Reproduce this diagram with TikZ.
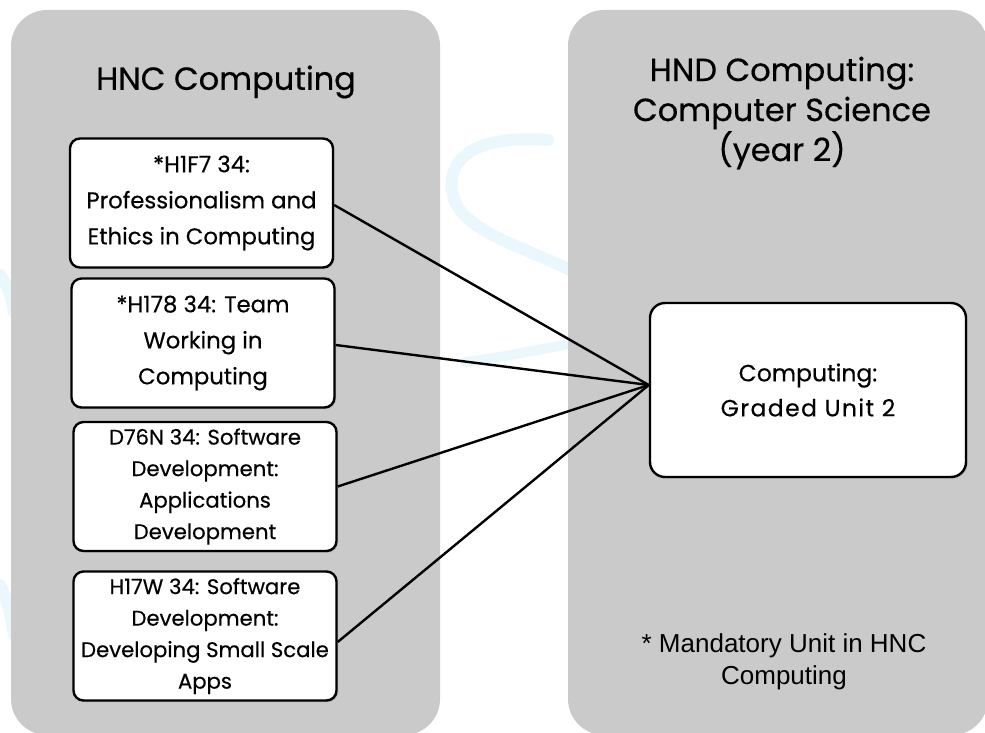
\documentclass[tikz,border=0pt]{standalone}
\usepackage{fontspec}
\setmainfont{Poppins}[FakeBold=0.4]
\newfontfamily\arialf{Liberation Sans}
\usetikzlibrary{shadows}
\definecolor{panelgray}{HTML}{CACACA}
\definecolor{wm}{HTML}{EAF7FD}
\begin{document}
\begin{tikzpicture}[x=1pt,y=-1pt,
  panel/.style={fill=panelgray, rounded corners=36pt},
  unitbox/.style={draw=black, line width=2.4pt, fill=white, rounded corners=10pt,
    align=center, inner sep=0pt, minimum width=263pt, minimum height=129pt,
    drop shadow={shadow xshift=1.5pt, shadow yshift=-1.5pt, opacity=0.35}},
  bigtext/.style={font=\fontsize{22.8}{36}\selectfont},
  smalltext/.style={font=\fontsize{21.2}{31.5}\selectfont},
  title/.style={align=center, font=\fontsize{32}{40}\selectfont},
  conn/.style={draw=black, line width=2.4pt}
]
\useasboundingbox (0,0) rectangle (985,733);
% faint watermark strokes
\draw[wm, line width=12pt, line cap=round]
  (548,140) .. controls (480,135) and (448,155) .. (452,190)
  .. controls (456,230) and (520,245) .. (570,270);
\draw[wm, line width=10pt, line cap=round] (465,362) .. controls (500,358) and (535,350) .. (565,345);
\draw[wm, line width=12pt, line cap=round] (0,275) .. controls (8,285) and (12,300) .. (14,312);
\draw[wm, line width=12pt, line cap=round] (0,585) .. controls (8,600) and (12,620) .. (14,635);
% panels
\fill[panel] (11,10) rectangle (440,735);
\fill[panel] (568,10) rectangle (988,735);
% titles
\node[title] (t1) at (226,82) {HNC Computing};
\node[title] (t2) at (782,113) {HND Computing:\\Computer Science\\(year 2)};
% unit boxes
\node[unitbox, bigtext] (b1) at (201.5,203) {*H1F7 34:\\Professionalism and\\Ethics in Computing};
\node[unitbox, bigtext] (b2) at (203,343) {*H178 34: Team\\Working in\\Computing};
\node[unitbox, smalltext] (b3) at (205,486.5) {D76N 34: Software\\Development:\\Applications\\Development};
\node[unitbox, smalltext] (b4) at (205,636) {H17W 34: Software\\Development:\\Developing Small Scale\\Apps};
\node[unitbox, font=\fontsize{23.5}{35}\selectfont, minimum width=316pt, minimum height=174pt, rounded corners=15pt] (gu) at (808,390) {Computing:\\{\addfontfeatures{LetterSpace=6}Graded Unit 2}};
% footnote
\node[align=center, font=\arialf\fontsize{26}{32}\selectfont] (fn) at (784,662) {* Mandatory Unit in HNC\\Computing};
% connectors
\coordinate (hub) at ([yshift=5pt]gu.west);
\draw[conn] ([yshift=-2pt]b1.east) -- (hub);
\draw[conn] ([yshift=-2pt]b2.east) -- (hub);
\draw[conn] (b3.east) -- (hub);
\draw[conn] ([yshift=-6pt]b4.east) -- (hub);
\end{tikzpicture}
\end{document}
